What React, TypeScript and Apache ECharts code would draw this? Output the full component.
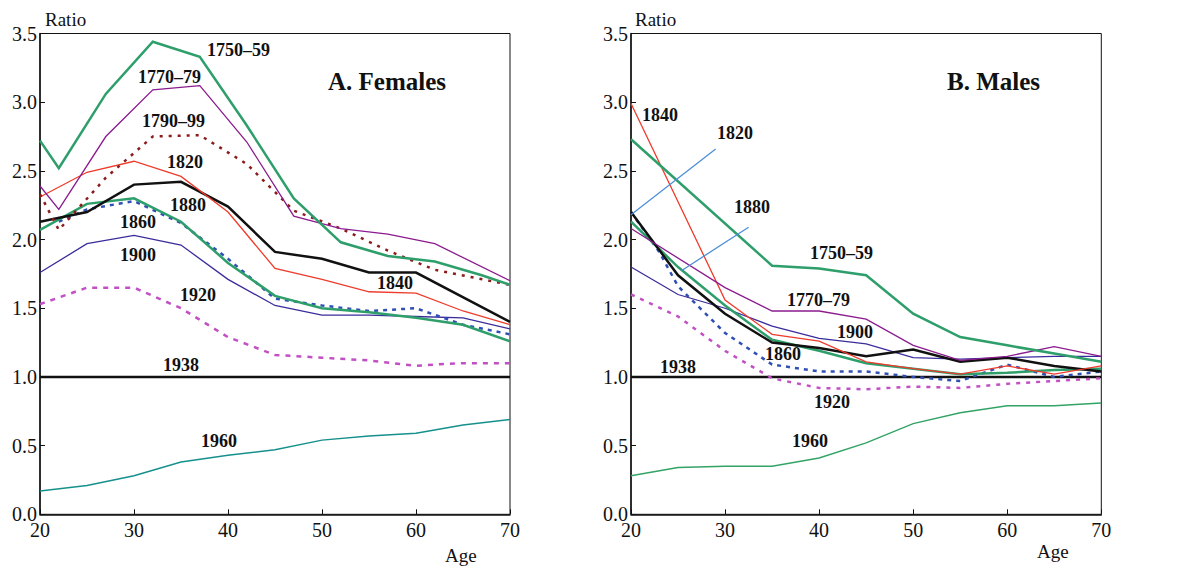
import React, { useEffect, useRef } from "react";
import * as echarts from "echarts";

// ---------- DATA ----------
const ageTicks = [20, 30, 40, 50, 60, 70];
const ratioTicks = [0, 0.5, 1, 1.5, 2, 2.5, 3, 3.5];

// Panel A: Females  ([age, ratio])
const fem1750: number[][] = [[20, 2.72], [22, 2.52], [27, 3.06], [32, 3.44], [37, 3.33], [42, 2.83], [47, 2.3], [52, 1.98], [57, 1.88], [62, 1.84], [67, 1.74], [70, 1.67]];
const fem1770: number[][] = [[20, 2.39], [22, 2.22], [27, 2.75], [32, 3.09], [37, 3.12], [42, 2.71], [47, 2.17], [52, 2.08], [57, 2.04], [62, 1.97], [70, 1.7]];
const fem1790: number[][] = [[20, 2.33], [22, 2.07], [27, 2.45], [32, 2.75], [37, 2.76], [42, 2.55], [47, 2.21], [52, 2.08], [57, 1.92], [62, 1.78], [70, 1.67]];
const fem1820: number[][] = [[20, 2.31], [25, 2.49], [30, 2.57], [35, 2.46], [40, 2.2], [45, 1.79], [50, 1.71], [55, 1.62], [60, 1.61], [65, 1.48], [70, 1.38]];
const fem1840: number[][] = [[20, 2.13], [25, 2.2], [30, 2.4], [35, 2.42], [40, 2.24], [45, 1.91], [50, 1.86], [55, 1.76], [60, 1.76], [70, 1.4]];
const fem1860: number[][] = [[20, 2.07], [25, 2.26], [30, 2.3], [35, 2.13], [40, 1.83], [45, 1.59], [50, 1.5], [55, 1.47], [60, 1.43], [65, 1.38], [70, 1.26]];
const fem1880: number[][] = [[22, 2.13], [25, 2.22], [30, 2.28], [35, 2.12], [40, 1.86], [45, 1.57], [50, 1.52], [55, 1.48], [60, 1.5], [65, 1.38], [70, 1.31]];
const fem1900: number[][] = [[20, 1.76], [25, 1.97], [30, 2.03], [35, 1.96], [40, 1.71], [45, 1.52], [50, 1.45], [55, 1.45], [60, 1.44], [65, 1.43], [70, 1.35]];
const fem1920: number[][] = [[20, 1.53], [25, 1.65], [30, 1.65], [35, 1.5], [40, 1.29], [45, 1.16], [50, 1.14], [55, 1.12], [60, 1.08], [62, 1.09], [65, 1.1], [70, 1.1]];
const fem1938: number[][] = [[20, 1.0], [70, 1.0]];
const fem1960: number[][] = [[20, 0.17], [25, 0.21], [30, 0.28], [35, 0.38], [40, 0.43], [45, 0.47], [50, 0.54], [55, 0.57], [60, 0.59], [65, 0.65], [70, 0.69]];

// Panel B: Males
const mal1750: number[][] = [[20, 2.73], [35, 1.81], [40, 1.79], [45, 1.74], [50, 1.46], [55, 1.29], [60, 1.23], [65, 1.17], [70, 1.11]];
const malRed: number[][] = [[20, 2.99], [30, 1.56], [35, 1.31], [40, 1.26], [45, 1.11], [50, 1.06], [55, 1.02], [60, 1.08], [65, 1.02], [70, 1.08]];
const mal1770: number[][] = [[20, 2.08], [30, 1.65], [35, 1.48], [40, 1.48], [45, 1.42], [50, 1.23], [55, 1.12], [60, 1.15], [65, 1.22], [70, 1.15]];
const mal1900: number[][] = [[20, 1.8], [25, 1.6], [30, 1.5], [35, 1.37], [40, 1.28], [45, 1.24], [50, 1.14], [55, 1.13], [60, 1.14], [65, 1.15], [70, 1.15]];
const malBlack: number[][] = [[20, 2.2], [25, 1.74], [30, 1.46], [35, 1.25], [40, 1.21], [45, 1.15], [50, 1.2], [55, 1.11], [60, 1.14], [65, 1.08], [70, 1.04]];
const mal1860: number[][] = [[20, 2.13], [25, 1.8], [30, 1.52], [35, 1.27], [40, 1.19], [45, 1.1], [50, 1.06], [55, 1.02], [60, 1.03], [65, 1.05], [70, 1.06]];
const mal1880: number[][] = [[20, 2.2], [23, 1.91], [25, 1.66], [30, 1.32], [35, 1.09], [40, 1.04], [45, 1.04], [50, 1.0], [55, 0.97], [60, 1.09], [65, 1.0], [70, 1.04]];
const mal1920: number[][] = [[20, 1.6], [25, 1.44], [30, 1.19], [35, 0.99], [40, 0.92], [45, 0.91], [50, 0.93], [55, 0.92], [60, 0.95], [65, 0.97], [70, 0.99]];
const mal1938: number[][] = [[20, 1.0], [70, 1.0]];
const mal1960: number[][] = [[20, 0.28], [25, 0.34], [30, 0.35], [35, 0.35], [40, 0.41], [45, 0.52], [50, 0.66], [55, 0.74], [60, 0.79], [65, 0.79], [70, 0.81]];
// label pointer lines (panel B)
const pointer1820: number[][] = [[20, 2.18], [29.0, 2.66]];
const pointer1880: number[][] = [[25.4, 1.775], [32.5, 2.09]];

// ---------- STYLE ----------
const SERIF = "Liberation Serif";
const C = {
  green: "#2e9e6b",
  purple: "#8b1b8e",
  darkred: "#8a1c1c",
  red: "#ee3b2b",
  black: "#111111",
  blue: "#2f4fb5",
  navy: "#3a2c9b",
  magenta: "#c24fc4",
  teal: "#16908c",
  green2: "#33a366",
  pointer: "#4d8fd6",
};

function line(data: number[][], idx: number, color: string, width: number, type: any = "solid", z = 2) {
  return {
    type: "line",
    xAxisIndex: idx,
    yAxisIndex: idx,
    data,
    showSymbol: false,
    symbol: "none",
    smooth: false,
    z,
    lineStyle: { color, width, type, cap: "butt", join: "miter" },
  };
}

function axes(idx: number) {
  const x = {
    type: "value",
    gridIndex: idx,
    min: 20,
    max: 70,
    interval: 10,
    axisLine: { show: true, onZero: false, lineStyle: { color: "#111", width: 1.5 } },
    axisTick: { show: true, inside: true, length: 5, lineStyle: { color: "#111", width: 1 } },
    axisLabel: {
      color: "#111",
      fontFamily: SERIF,
      fontSize: 20,
      lineHeight: 16,
      margin: 8,
      formatter: (v: number) => (ageTicks.includes(v) ? String(v) : ""),
    },
    splitLine: { show: false },
  };
  const y = {
    type: "value",
    gridIndex: idx,
    min: 0,
    max: 3.5,
    interval: 0.5,
    axisLine: { show: true, onZero: false, lineStyle: { color: "#111", width: 1.5 } },
    axisTick: { show: true, inside: true, length: 5, lineStyle: { color: "#111", width: 1 } },
    axisLabel: {
      color: "#111",
      fontFamily: SERIF,
      fontSize: 20,
      lineHeight: 14,
      margin: 3,
      formatter: (v: number) => {
        const t = ratioTicks.find((r) => Math.abs(r - v) < 1e-6);
        return t === undefined ? "" : t.toFixed(1);
      },
    },
    splitLine: { show: false },
  };
  return { x, y };
}

function txt(text: string, x: number, y: number, size = 18, bold = true) {
  return {
    type: "text",
    x,
    y,
    z: 100,
    style: {
      text,
      fill: "#111",
      fontFamily: SERIF,
      fontSize: size,
      fontWeight: bold ? "bold" : "normal",
      verticalAlign: "middle",
      align: "left",
    },
  };
}

export default function App() {
  const ref = useRef<HTMLDivElement>(null);
  useEffect(() => {
    if (!ref.current) return;
    const chart = echarts.init(ref.current, undefined, { renderer: "svg" });
    const a0 = axes(0);
    const a1 = axes(1);
    chart.setOption({
      animation: false,
      backgroundColor: "#ffffff",
      textStyle: { fontFamily: SERIF },
      grid: [
        { left: 40, top: 33.5, width: 470, height: 480.8, show: true, borderColor: "#111", borderWidth: 1, backgroundColor: "transparent" },
        { left: 631, top: 33.5, width: 470.3, height: 480.8, show: true, borderColor: "#111", borderWidth: 1, backgroundColor: "transparent" },
      ],
      xAxis: [a0.x, a1.x],
      yAxis: [a0.y, a1.y],
      series: [
        // Females
        line(fem1960, 0, C.teal, 1.5),
        line(fem1938, 0, C.black, 2.5),
        line(fem1920, 0, C.magenta, 2.5, [5, 6]),
        line(fem1900, 0, C.navy, 1.3),
        line(fem1880, 0, C.blue, 2.5, [4, 5]),
        line(fem1860, 0, C.green, 2.5),
        line(fem1840, 0, C.black, 2.5),
        line(fem1820, 0, C.red, 1.3),
        line(fem1790, 0, C.darkred, 2.5, [3, 6]),
        line(fem1770, 0, C.purple, 1.3),
        line(fem1750, 0, C.green, 2.5),
        // Males
        line(mal1960, 1, C.green2, 1.5),
        line(mal1938, 1, C.black, 2.5),
        line(mal1920, 1, C.magenta, 2.5, [4, 6]),
        line(mal1880, 1, C.blue, 2.5, [4, 5]),
        line(mal1900, 1, C.navy, 1.3),
        line(mal1860, 1, C.green, 2.5),
        line(malBlack, 1, C.black, 2.5),
        line(malRed, 1, C.red, 1.3),
        line(mal1770, 1, C.purple, 1.3),
        line(mal1750, 1, C.green, 2.5),
        line(pointer1820, 1, C.pointer, 1.3),
        line(pointer1880, 1, C.pointer, 1.3),
      ],
      graphic: [
        // Panel A labels
        txt("Ratio", 45, 19, 19, false),
        txt("Age", 445, 555, 19, false),
        txt("A. Females", 328, 81, 25),
        txt("1750–59", 207, 50),
        txt("1770–79", 138, 77),
        txt("1790–99", 142, 121),
        txt("1820", 167, 162),
        txt("1880", 170, 205),
        txt("1860", 120, 222),
        txt("1900", 120, 255),
        txt("1920", 180, 295),
        txt("1938", 163, 365),
        txt("1960", 201, 441),
        txt("1840", 377, 283),
        // Panel B labels
        txt("Ratio", 635, 19, 19, false),
        txt("Age", 1037, 551, 19, false),
        txt("B. Males", 947, 81, 25),
        txt("1840", 642, 115),
        txt("1820", 717, 133),
        txt("1880", 734, 207),
        txt("1750–59", 810, 253),
        txt("1770–79", 787, 300),
        txt("1900", 837, 332),
        txt("1860", 765, 354),
        txt("1938", 660, 367),
        txt("1920", 814, 402),
        txt("1960", 792, 441),
      ],
    });
    return () => chart.dispose();
  }, []);
  return (
    <div
      ref={ref}
      style={{ position: "absolute", left: 0, top: 0, width: 1197, height: 566, background: "#fff" }}
    />
  );
}
